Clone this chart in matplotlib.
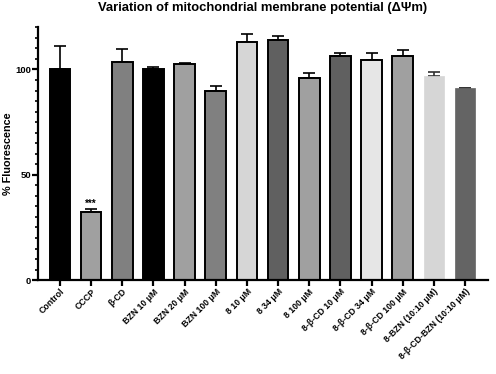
import numpy as np
import matplotlib.pyplot as plt
from matplotlib.ticker import MultipleLocator

plt.rcParams['font.family'] = ['Liberation Sans', 'DejaVu Sans']

labels = [
    "Control", "CCCP", "β-CD", "BZN 10 μM", "BZN 20 μM", "BZN 100 μM",
    "8 10 μM", "8 34 μM", "8 100 μM", "8-β-CD 10 μM", "8-β-CD 34 μM",
    "8-β-CD 100 μM", "8-BZN (10:10 μM)", "8-β-CD-BZN (10:10 μM)"
]
means = [100.0, 32.4, 103.6, 100.0, 102.4, 89.8, 112.8, 113.8, 95.7,
         106.5, 104.4, 106.2, 96.8, 91.1]
errors = [11.2, 1.4, 6.0, 1.2, 0.5, 2.2, 4.0, 2.0, 2.4,
          1.1, 3.2, 3.0, 1.8, 0.3]
colors = ["#000000", "#a0a0a0", "#808080", "#000000", "#a0a0a0", "#808080",
          "#d6d6d6", "#606060", "#a0a0a0", "#606060", "#e6e6e6", "#a0a0a0",
          "#d6d6d6", "#646464"]
edged = [True] * 12 + [False, False]

fig = plt.figure(figsize=(4.96, 3.74), dpi=100)
ax = fig.add_axes([0.077, 0.251, 0.907, 0.676])

x = np.arange(len(labels))

for i in x:
    ax.bar(
        i, means[i],
        width=0.66,
        color=colors[i],
        edgecolor="black" if edged[i] else colors[i],
        linewidth=1.4 if edged[i] else 0.5,
        zorder=2
    )
    ax.errorbar(
        i, means[i],
        yerr=[[0], [errors[i]]],
        fmt="none",
        ecolor="black" if edged[i] else "#303030",
        elinewidth=1.2,
        capsize=4,
        capthick=1.2,
        zorder=1
    )

ax.text(1, means[1] + errors[1] + 0.2, "***", ha="center", va="bottom",
        fontsize=7, fontweight="bold")

ax.set_xlim(-0.7, len(labels) - 1 + 0.74)
ax.set_ylim(0, 120)
ax.yaxis.set_major_locator(MultipleLocator(50))
ax.yaxis.set_minor_locator(MultipleLocator(5))

ax.spines["top"].set_visible(False)
ax.spines["right"].set_visible(False)
ax.spines["left"].set_linewidth(1.6)
ax.spines["bottom"].set_linewidth(1.6)

ax.tick_params(axis="both", which="major", width=1.6, length=4,
               labelsize=6.8, pad=1)
ax.tick_params(axis="y", which="minor", width=1.2, length=2.5)

ax.set_xticks(x)
ax.set_xticklabels(labels, rotation=45, ha="right", rotation_mode="anchor",
                   fontsize=6.3, fontweight="bold")
for t in ax.get_yticklabels():
    t.set_fontweight("bold")

ax.set_ylabel("% Fluorescence", fontsize=7.8, fontweight="bold", labelpad=2)

fig.suptitle("Variation of mitochondrial membrane potential (ΔΨm)",
             x=0.53, y=0.995, fontsize=9.4, fontweight="bold")

fig.savefig("out.png", dpi=100)
